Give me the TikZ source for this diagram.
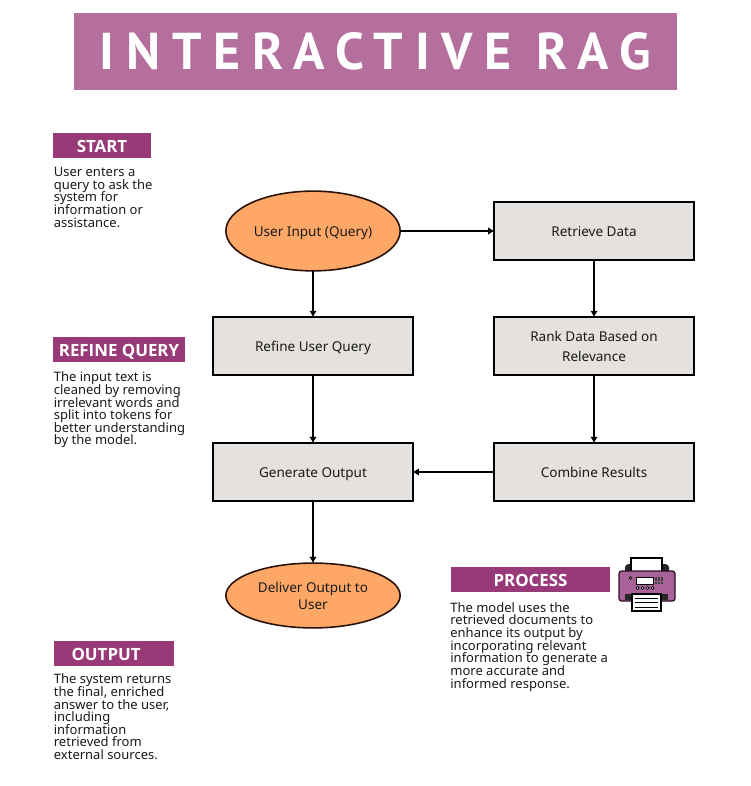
\documentclass[tikz,border=0pt]{standalone}
\usepackage{fontspec}
\setmainfont{Noto Sans}
\newfontfamily\titlefont[LetterSpace=22.85]{PT Sans Bold}
\newfontfamily\tagfont{Open Sans Bold}
\usetikzlibrary{shapes,arrows.meta,chains}
\definecolor{titlepurple}{HTML}{B56F9D}
\definecolor{tagpurple}{HTML}{993A78}
\definecolor{printerpurple}{HTML}{A9619A}
\definecolor{boxgray}{HTML}{E4E1DE}
\definecolor{ovalorange}{HTML}{FFA766}
\definecolor{ovalline}{HTML}{2A1208}
\definecolor{inkblack}{HTML}{1A1A1A}
\newcommand{\boxstrut}{\rule[-2.4pt]{0pt}{11pt}}
\newcommand{\toppad}{\rule{0pt}{9pt}}
\newcommand{\notefont}{\fontsize{7.4}{7.2}\selectfont\lineskiplimit=-5pt\relax}
\tikzstyle{line} = [draw, -{Latex[length=3.6pt,width=4.4pt]}, line width=1.2pt]
\tikzstyle{stepbox} = [draw=black, line width=1.1pt, fill=boxgray, outer sep=0pt, minimum width=113.4pt, minimum height=32.9pt, inner sep=0pt, align=center, font=\fontsize{7.7}{11.3}\selectfont, text=inkblack, execute at begin node=\boxstrut, execute at end node=\boxstrut]
\tikzstyle{oval} = [draw=ovalline, line width=0.9pt, fill=ovalorange, ellipse, outer sep=0pt, inner sep=0pt, align=center, minimum width=99.2pt, font=\fontsize{7.7}{9.7}\selectfont, text=inkblack, execute at begin node=\boxstrut, execute at end node=\boxstrut]
\tikzstyle{tag} = [fill=tagpurple, text=white, inner sep=0pt, minimum height=14.2pt, text height=7.6pt, text depth=0pt, font=\tagfont\fontsize{9.6}{10}\selectfont]
\tikzstyle{note} = [anchor=north west, inner sep=0pt, align=left, text=inkblack, font=\notefont]

\begin{document}
\begin{tikzpicture}[x=0.02cm,y=-0.02cm]
    \useasboundingbox (0,0) rectangle (750,786);
    % Title band
    \node (title) at (375.5,51.5) [fill=titlepurple, text=white, inner sep=0pt, minimum width=343pt, minimum height=43.6pt, font=\titlefont\fontsize{29.5}{29.5}\selectfont] {INTERACTIVE RAG};

    % Flow boxes
    \node (input) at (313,231) [oval, minimum height=45.4pt] {User Input (Query)};
    \node (retrieve) at (594,231) [stepbox] {Retrieve Data};
    \node (refine) at (313,346) [stepbox] {Refine User Query};
    \node (rank) at (594,346) [stepbox] {\toppad Rank Data Based on\\Relevance};
    \node (generate) at (313,472) [stepbox] {Generate Output};
    \node (combine) at (594,472) [stepbox] {Combine Results};
    \node (deliver) at (313,595.5) [oval, minimum height=36.9pt] {\toppad Deliver Output to\\User};

    % Connectors
    \draw [line] (input) -- (retrieve);
    \draw [line] (input) -- (refine);
    \draw [line] (retrieve) -- (rank);
    \draw [line] (refine) -- (generate);
    \draw [line] (rank) -- (combine);
    \draw [line] (combine) -- (generate);
    \draw [line] (generate) -- (deliver);

    % Side notes
    \node (starttag) at (102,145.5) [tag, minimum width=55.6pt] {START};
    \node (startnote) at (53.5,167) [note] {User enters a\\query to ask the\\system for\\information or\\assistance.};
    \node (refinetag) at (119,349.5) [tag, minimum width=74.8pt] {REFINE QUERY};
    \node (refinenote) at (53.5,371.5) [note] {The input text is\\cleaned by removing\\irrelevant words and\\split into tokens for\\better understanding\\by the model.};
    \node (outputtag) at (114,653.5) [tag, minimum width=68pt] {OUTPUT\kern9pt};
    \node (outputnote) at (53.5,673.5) [note] {The system returns\\the final, enriched\\answer to the user,\\including\\information\\retrieved from\\external sources.};
    \node (processtag) at (530.5,579.5) [tag, minimum width=90.1pt] {PROCESS};
    \node (processnote) at (450,602) [note] {The model uses the\\retrieved documents to\\enhance its output by\\incorporating relevant\\information to generate a\\more accurate and\\informed response.};

    % Printer icon
    \fill [black!85, rounded corners=2pt] (625,564) rectangle (669,575);
    \draw [fill=white, line width=0.6pt] (631,558) rectangle (662,572);
    \draw [fill=printerpurple, draw=black!70!tagpurple, line width=0.7pt, rounded corners=1.5pt] (619,571) rectangle (675,601);
    \fill [black!85] (625,594) rectangle (668,600);
    \draw [fill=white, line width=0.6pt] (632,594) rectangle (661,611);
    \draw [line width=0.5pt] (635,598) -- (658,598);
    \draw [line width=0.5pt] (635,602) -- (658,602);
    \draw [line width=0.5pt] (635,607) -- (658,607);
    \draw [fill=white, line width=0.5pt] (636,577) rectangle (653,584);
    \draw [fill=white, line width=0.4pt] (630.5,578) circle (1.3);
    \foreach \i in {0,1,2,3} {
        \draw [fill=white, line width=0.4pt] (637.5+\i*5,588) circle (1.5);
    }
    \foreach \i in {0,1,2} {
        \foreach \j in {0,1,2} {
            \fill [black!75] (655+\i*3,576.5+\j*2.8) rectangle +(2.2,2);
        }
    }
\end{tikzpicture}
\end{document}
